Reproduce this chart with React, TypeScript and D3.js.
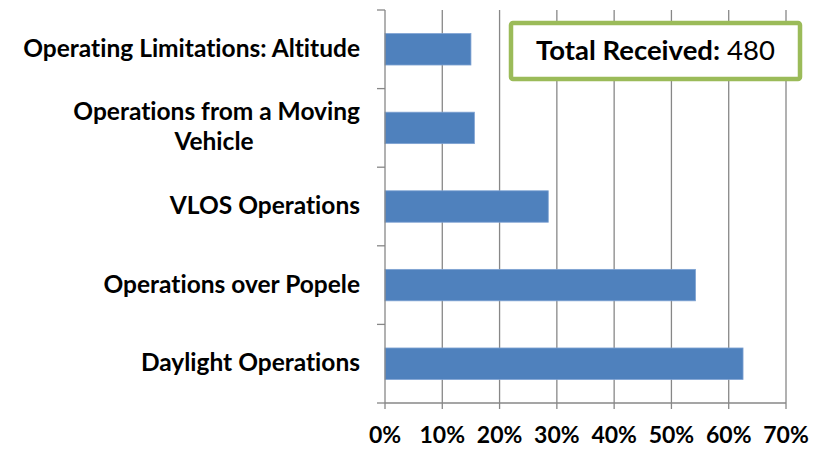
import React from 'react';
import * as d3 from 'd3';

const categories = [
	'Operating Limitations: Altitude',
	'Operations from a Moving Vehicle',
	'VLOS Operations',
	'Operations over Popele',
	'Daylight Operations',
];
// shares of the 480 comments received
const shares = [0.15, 0.156, 0.285, 0.542, 0.625];
const xTicks = [0, 0.1, 0.2, 0.3, 0.4, 0.5, 0.6, 0.7];
const totalLabel = 'Total Received:';
const totalValue = 480;

// labels that wrap onto two lines in the original
const labelLines: Record<string, string[]> = {
	'Operations from a Moving Vehicle': ['Operations from a Moving', 'Vehicle'],
};

const FONT = 'Lato, "Open Sans", sans-serif';

const App = () => {
	const svgWidth = 823;
	const svgHeight = 449;
	const left = 385,
		right = 786,
		top = 10,
		bottom = 403;

	const xScale = d3.scaleLinear().domain([0, 0.7]).range([left, right]);
	const yScale = d3
		.scaleBand()
		.domain(categories)
		.range([top, bottom])
		.paddingInner(0.6)
		.paddingOuter(0.3);

	const step = yScale.step();
	const boundaries = d3.range(categories.length + 1).map((i) => top + i * step);
	const fmt = d3.format('.0%');

	return (
		<svg
			width={svgWidth}
			height={svgHeight}
			style={{
				position: 'absolute',
				left: 0,
				top: 0,
				background: 'white',
				fontVariantLigatures: 'none',
			}}
		>
			{/* gridlines */}
			<g className='grid'>
				{xTicks.slice(1).map((t) => (
					<line
						key={t}
						x1={xScale(t)}
						x2={xScale(t)}
						y1={top}
						y2={bottom}
						stroke='#878787'
						strokeWidth={1.3}
					/>
				))}
			</g>

			{/* bars */}
			<g className='bars'>
				{categories.map((c, i) => (
					<rect
						key={c}
						x={xScale(0)}
						y={yScale(c)}
						width={xScale(shares[i]) - xScale(0)}
						height={yScale.bandwidth()}
						fill='#4F81BD'
						stroke='#7EA2D2'
						strokeWidth={0.8}
					/>
				))}
			</g>

			{/* y axis */}
			<g className='axis-left'>
				<line x1={left} x2={left} y1={top} y2={bottom} stroke='#878787' strokeWidth={1.3} />
				{boundaries.map((b) => (
					<line key={b} x1={left - 8} x2={left} y1={b} y2={b} stroke='#878787' strokeWidth={1.3} />
				))}
				{categories.map((c) => {
					const lines = labelLines[c] || [c];
					const cy = (yScale(c) as number) + yScale.bandwidth() / 2;
					const lh = 30;
					return (
						<text
							key={c}
							fontFamily={FONT}
							fontWeight='bold'
							fontSize={24.5}
							fill='black'
						>
							{lines.map((l, j) => {
								const centred = lines.length > 1 && j > 0;
								return (
									<tspan
										key={j}
										x={centred ? 214 : 360}
										y={cy + 7.5 + (j - (lines.length - 1) / 2) * lh}
										textAnchor={centred ? 'middle' : 'end'}
									>
										{l}
									</tspan>
								);
							})}
						</text>
					);
				})}
			</g>

			{/* x axis */}
			<g className='axis-bottom'>
				<line x1={left} x2={right} y1={bottom} y2={bottom} stroke='#878787' strokeWidth={1.3} />
				{xTicks.map((t) => (
					<g key={t} transform={`translate(${xScale(t)},0)`}>
						<line y1={bottom} y2={bottom + 6} stroke='#878787' strokeWidth={1.3} />
						<text
							y={443}
							textAnchor='middle'
							fontFamily={FONT}
							fontWeight='bold'
							fontSize={23}
							fill='black'
						>
							{fmt(t)}
						</text>
					</g>
				))}
			</g>

			{/* total box */}
			<g className='total'>
				<rect x={511} y={23} width={289} height={56} rx={2} fill='white' stroke='#9BBB59' strokeWidth={4.5} />
				<text x={655.5} y={60} textAnchor='middle' fontFamily={FONT} fontSize={27.5} fill='black'>
					<tspan fontWeight='bold'>{totalLabel}</tspan>
					<tspan> {totalValue}</tspan>
				</text>
			</g>
		</svg>
	);
};

export default App;
